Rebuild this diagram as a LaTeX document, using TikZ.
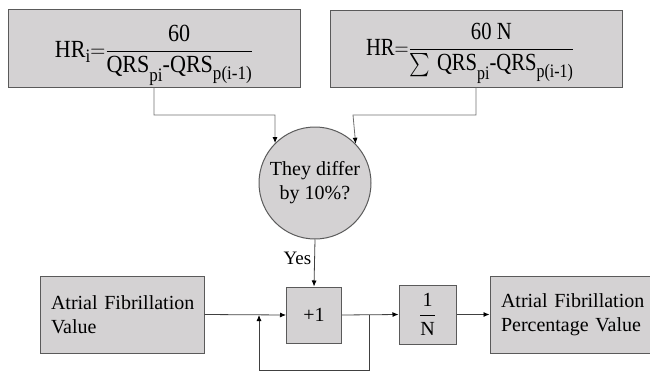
\documentclass[tikz,border=0pt]{standalone}
\usepackage{amsmath}
\usepackage{graphicx}
\usepackage{fontspec}
\setmainfont{Liberation Serif}
\usetikzlibrary{arrows.meta,calc}
\definecolor{boxfill}{HTML}{D4D2D3}
\definecolor{boxline}{HTML}{5A5A5A}
\definecolor{conline}{HTML}{707070}
\newcommand\lsub[2]{\raisebox{-#1}{\fontsize{17}{17}\selectfont #2}}
\begin{document}
\begin{tikzpicture}[x=1pt,y=-1pt,
  box/.style={draw=boxline,line width=1pt,fill=boxfill,inner sep=0pt,font=\fontsize{20}{24}\selectfont},
  formula/.style={inner sep=0pt,font=\fontsize{22}{26}\selectfont},
  roundbox/.style={circle,draw=boxline,line width=1pt,fill=boxfill,inner sep=0pt,minimum size=112pt,align=center,font=\fontsize{20}{24}\selectfont},
  arr/.style={draw=conline,line width=0.8pt,-{Latex[length=6pt,width=5pt,color=black]}},
  darr/.style={draw=black!75,line width=0.8pt,-{Latex[length=6pt,width=5pt,color=black]}}]
\useasboundingbox (0,0) rectangle (650,372);
\node[box,minimum width=292pt,minimum height=78pt] (f1) at (154,48) {};
\node[formula] (f1t) at (154,55.5)
  {\resizebox*{198pt}{61pt}{$\text{HR\lsub{5pt}{i}}{=}\dfrac{\text{60}}{\text{QRS\lsub{8pt}{pi}-QRS\lsub{6pt}{p(i-1)}}}$}};
\node[box,minimum width=292pt,minimum height=77pt] (f2) at (476,48.5) {};
\node[formula] (f2t) at (470,53.5)
  {\resizebox*{208pt}{61pt}{$\text{HR}{=}\dfrac{\text{60 N}}{\textstyle\sum\text{\,QRS\lsub{8pt}{pi}-QRS\lsub{6pt}{p(i-1)}}}$}};
\node[roundbox] (c) at (315,183) {They differ\\by 10\%?};
\node[box,minimum width=164pt,minimum height=77pt,text width=152pt,align=left] (af) at (122,314.5)
  {\hspace*{5pt}Atrial Fibrillation\\\hspace*{5pt}Value};
\node[box,minimum width=55pt,minimum height=56pt] (p1) at (314,315) {+1};
\node[box,minimum width=57pt,minimum height=59pt] (inv) at (427.5,314.5)
  {$\dfrac{\text{1}}{\text{N}}$};
\node[box,minimum width=180pt,minimum height=77pt,text width=158pt,align=left] (out) at (580,314.5)
  {Atrial Fibrillation\\Percentage Value};
\coordinate (fb) at (369,315);
\coordinate (fbin) at (259,315);
\coordinate (fbl) at (259,370);
\draw[arr] (f1.south) |- (275,115) -- (c.135.6);
\draw[arr] (f2.south) |- (353,115) -- (c.44.4);
\draw[darr] (c.south) -- node[left,font=\fontsize{19}{21}\selectfont,inner sep=3pt,pos=0.4] {Yes} (p1.north);
\draw[darr] (af.east) -- (p1.west);
\draw[darr] (p1.east) -- (inv.west);
\draw[darr] (fb) |- (fbl) -- (fbin);
\draw[darr] (inv.east) -- (out.west);
\end{tikzpicture}
\end{document}
